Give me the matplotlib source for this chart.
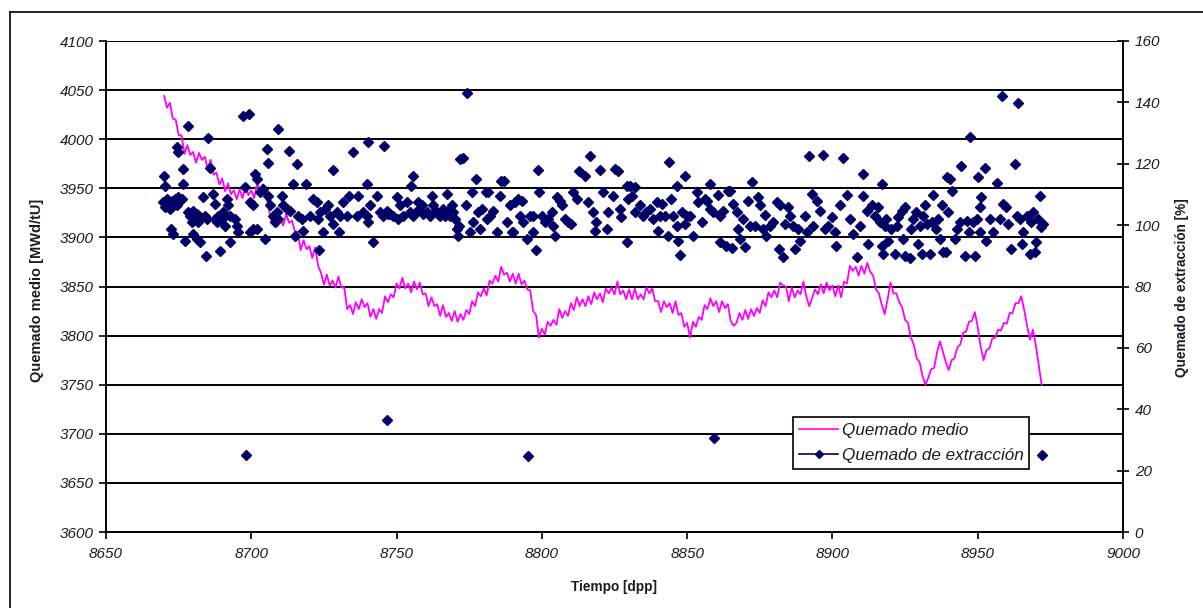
import numpy as np
import matplotlib
matplotlib.use('Agg')
import matplotlib.pyplot as plt
from matplotlib.lines import Line2D

plt.rcParams['font.family'] = ['Liberation Sans', 'DejaVu Sans']

# Quemado medio del núcleo, un valor por día (dpp), desde DIA_INICIO
DIA_INICIO = 8670
QUEMADO_MEDIO = [
    4044, 4032, 4037, 4021, 4020, 4004, 4004, 3985, 3994, 3984,
    3987, 3976, 3986, 3979, 3982, 3970, 3979, 3964, 3966, 3954,
    3960, 3947, 3955, 3944, 3948, 3939, 3949, 3940, 3951, 3943,
    3948, 3940, 3955, 3949, 3954, 3943, 3929, 3916, 3919, 3911,
    3920, 3912, 3924, 3915, 3917, 3906, 3906, 3887, 3897, 3888,
    3891, 3879, 3890, 3871, 3864, 3852, 3862, 3851, 3856, 3849,
    3860, 3849, 3849, 3827, 3831, 3822, 3834, 3827, 3837, 3829,
    3833, 3819, 3827, 3817, 3827, 3823, 3840, 3834, 3842, 3839,
    3853, 3848, 3859, 3848, 3853, 3844, 3855, 3847, 3854, 3842,
    3843, 3830, 3839, 3830, 3832, 3820, 3831, 3819, 3823, 3815,
    3825, 3814, 3822, 3816, 3826, 3822, 3835, 3830, 3844, 3840,
    3848, 3841, 3856, 3853, 3861, 3855, 3870, 3862, 3864, 3855,
    3863, 3853, 3863, 3852, 3856, 3847, 3846, 3825, 3821, 3798,
    3807, 3801, 3814, 3810, 3816, 3811, 3827, 3818, 3825, 3820,
    3833, 3826, 3839, 3830, 3837, 3830, 3840, 3832, 3844, 3837,
    3843, 3834, 3848, 3843, 3849, 3842, 3855, 3842, 3846, 3837,
    3847, 3837, 3848, 3837, 3842, 3837, 3849, 3843, 3848, 3835,
    3835, 3824, 3835, 3829, 3833, 3823, 3835, 3821, 3823, 3809,
    3813, 3798, 3814, 3809, 3819, 3816, 3831, 3827, 3838, 3830,
    3835, 3824, 3835, 3828, 3832, 3815, 3810, 3813, 3823, 3816,
    3826, 3817, 3827, 3820, 3828, 3823, 3836, 3830, 3844, 3839,
    3846, 3839, 3854, 3851, 3850, 3835, 3849, 3839, 3846, 3842,
    3855, 3840, 3830, 3838, 3847, 3842, 3852, 3843, 3854, 3846,
    3851, 3840, 3851, 3839, 3855, 3853, 3871, 3866, 3870, 3861,
    3871, 3863, 3874, 3865, 3861, 3847, 3843, 3831, 3822, 3837,
    3854, 3843, 3843, 3834, 3829, 3816, 3813, 3798, 3791, 3777,
    3773, 3759, 3750, 3757, 3766, 3767, 3783, 3794, 3784, 3773,
    3765, 3775, 3777, 3788, 3791, 3803, 3804, 3814, 3815, 3824,
    3809, 3789, 3775, 3785, 3787, 3797, 3798, 3806, 3805, 3813,
    3812, 3823, 3823, 3833, 3833, 3840, 3826, 3810, 3796, 3806,
    3790, 3770, 3750,
]

# Quemado de extracción [%] de cada elemento descargado
EXTR_DIAS = [
    8670.0, 8670.3, 8669.7, 8670.9, 8671.4, 8672.6, 8673.7, 8674.9, 8676.0, 8670.3,
    8672.0, 8674.3, 8672.2, 8673.2, 8674.5, 8674.9, 8676.6, 8676.4, 8678.1, 8677.2,
    8678.3, 8678.9, 8680.0, 8680.6, 8681.2, 8679.5, 8682.3, 8681.8, 8680.0, 8681.2,
    8682.3, 8683.5, 8684.1, 8684.6, 8684.4, 8685.2, 8685.8, 8686.9, 8687.5, 8688.1,
    8687.5, 8688.7, 8689.8, 8689.2, 8690.4, 8690.9, 8691.5, 8692.1, 8692.7, 8692.7,
    8694.4, 8695.0, 8695.5, 8697.0, 8699.2, 8697.8, 8699.5, 8699.5, 8700.7, 8701.8,
    8700.7, 8701.3, 8701.8, 8703.0, 8704.1, 8704.7, 8705.3, 8705.9, 8705.9, 8706.4,
    8707.6, 8708.7, 8708.2, 8709.3, 8709.3, 8710.4, 8711.0, 8712.2, 8713.3, 8713.1,
    8714.2, 8715.6, 8715.0, 8716.2, 8717.3, 8717.9, 8719.0, 8720.2, 8721.3, 8722.5,
    8723.1, 8723.6, 8723.4, 8724.8, 8725.4, 8726.5, 8727.1, 8728.0, 8728.2, 8729.4,
    8730.5, 8730.3, 8731.7, 8732.8, 8733.5, 8734.9, 8736.3, 8736.8, 8738.6, 8739.7,
    8739.7, 8740.3, 8740.0, 8740.8, 8742.0, 8743.1, 8744.3, 8745.4, 8745.7, 8747.2,
    8748.9, 8750.0, 8750.6, 8746.6, 8747.7,
    8751.2, 8752.3, 8753.5, 8754.6, 8755.8, 8754.8, 8755.8, 8757.5, 8758.6, 8760.3,
    8762.1, 8762.6, 8763.8, 8764.9, 8766.1, 8767.2, 8768.4, 8769.0, 8770.1, 8770.7,
    8771.2, 8771.6, 8771.8, 8772.7, 8773.9, 8774.3, 8775.3, 8775.8, 8776.4, 8777.3,
    8778.1, 8778.7, 8779.3, 8780.8, 8781.6, 8781.0, 8782.1, 8783.3, 8784.4, 8785.6,
    8786.1, 8786.9, 8787.9, 8789.0, 8789.6, 8790.2, 8790.7, 8791.9, 8793.0, 8792.5,
    8793.6, 8794.8, 8795.9, 8796.8, 8797.1, 8798.0, 8798.8, 8799.1, 8799.9, 8801.1,
    8802.2, 8803.4, 8803.9, 8804.5, 8805.1, 8806.2, 8806.8, 8808.0, 8809.1, 8810.2,
    8810.6, 8812.0, 8812.9, 8814.8, 8816.0, 8816.5, 8817.7, 8818.3, 8818.8, 8820.0,
    8821.1, 8822.3, 8822.8, 8824.6, 8825.1, 8826.3, 8826.9, 8827.4, 8829.2, 8829.4,
    8829.7, 8756.9, 8759.2, 8761.5, 8763.2, 8764.4, 8765.5, 8766.6, 8767.8, 8769.5,
    8830.3, 8832.0, 8830.9, 8832.0, 8833.8, 8834.9, 8836.0, 8837.2, 8838.3, 8839.5,
    8840.6, 8840.1, 8841.2, 8842.4, 8843.5, 8843.9, 8844.6, 8845.2, 8846.4, 8847.0,
    8846.6, 8847.5, 8848.1, 8849.2, 8849.8, 8849.2, 8851.0, 8852.1, 8853.3, 8853.8,
    8855.0, 8856.1, 8856.9, 8857.8, 8857.8, 8859.0, 8860.7, 8861.3, 8861.3, 8862.4,
    8863.3, 8864.2, 8864.7, 8865.9, 8865.3, 8867.0, 8867.6, 8868.2, 8869.3, 8869.9,
    8871.0, 8872.2, 8871.6, 8873.3, 8874.5, 8875.0, 8876.2, 8876.8, 8877.3, 8878.5,
    8879.6, 8880.8, 8881.7, 8881.9, 8883.1, 8883.6, 8884.8, 8885.4, 8886.5, 8887.1,
    8888.2, 8888.8, 8890.5, 8891.1, 8892.0, 8892.8, 8893.4, 8894.8, 8895.7, 8896.6,
    8897.4, 8898.6, 8899.7, 8900.9, 8901.4, 8902.6, 8903.5, 8904.9, 8906.0, 8907.2,
    8908.5, 8909.5, 8910.4, 8910.6, 8911.8, 8912.3,
    8913.5, 8914.6, 8915.8, 8916.3, 8916.9, 8916.9, 8917.5, 8918.1, 8918.6, 8919.2,
    8920.3, 8921.5, 8922.1, 8922.6, 8923.8, 8924.9, 8924.4, 8924.9, 8926.7, 8927.2,
    8927.8, 8928.9, 8929.5, 8930.1, 8930.7, 8931.2, 8932.4, 8932.0, 8933.5, 8934.1,
    8934.7, 8935.8, 8936.4, 8937.0, 8937.6, 8938.1, 8939.0, 8939.5, 8939.8, 8940.4,
    8941.3, 8942.1, 8942.7, 8943.9, 8944.4, 8945.6, 8946.2, 8947.3, 8947.1, 8948.5,
    8949.0, 8949.6, 8950.2, 8950.7, 8951.3, 8950.7, 8952.5, 8953.0, 8954.2, 8955.3,
    8956.5, 8957.6, 8958.2, 8958.8, 8959.9, 8960.5, 8961.6, 8962.8, 8963.4, 8963.9,
    8964.5, 8965.1, 8965.7, 8966.8, 8968.0, 8968.5, 8969.1, 8969.7, 8970.2, 8970.8,
    8971.4, 8971.9, 8972.3,
    8698.2, 8746.7, 8795.2, 8859.2, 8972.1,
]
EXTR_PCT = [
    116.1, 112.9, 107.4, 108.5, 106.4, 108.0, 108.5, 109.1, 108.5, 105.8,
    105.3, 106.4, 98.8, 97.1, 125.4, 123.7, 118.3, 113.4, 132.2, 94.9,
    104.2, 103.1, 104.7, 102.0, 103.6, 100.9, 102.6, 100.9, 97.1, 95.5,
    94.4, 109.1, 103.1, 102.0, 89.8, 128.3, 118.5, 110.1, 102.0, 100.9,
    106.9, 103.1, 102.0, 91.7, 104.2, 99.8, 108.5, 106.4, 103.1, 94.4,
    102.0, 99.8, 97.6, 135.7, 136.2, 112.3, 107.4, 97.6, 98.8, 98.8,
    106.4, 116.7, 115.0, 110.7, 111.8, 95.5, 124.8, 120.2, 109.6, 106.4,
    103.1, 104.2, 100.9, 102.0, 131.3, 109.6, 106.4, 105.3, 104.7, 124.3,
    113.4, 119.9, 96.6, 103.1, 102.0, 98.2, 113.4, 103.1, 108.5, 107.4,
    102.0, 104.2, 92.0, 97.6, 105.3, 106.4, 103.1, 100.4, 118.1, 104.2,
    103.1, 97.9, 107.4, 103.1, 109.4, 123.7, 103.1, 109.6, 104.2, 103.1,
    113.4, 100.9, 127.0, 106.4, 94.4, 109.6, 104.2, 103.1, 125.9, 103.6,
    103.1, 109.1, 102.0, 104.7, 103.6,
    106.4, 103.1, 107.4, 104.2, 103.1, 112.9, 115.9, 107.4, 106.4, 104.2,
    109.6, 106.4, 104.2, 103.1, 105.3, 110.1, 103.1, 106.4, 102.0, 98.8,
    96.6, 99.8, 121.6, 121.8, 106.4, 143.1, 97.6, 110.7, 100.9, 115.0,
    104.2, 98.8, 105.3, 110.7, 110.7, 102.0, 103.1, 104.7, 97.6, 109.6,
    114.5, 114.5, 100.9, 106.4, 97.6, 97.6, 107.4, 108.5, 108.0, 103.1,
    100.9, 95.5, 103.1, 97.6, 103.1, 91.9, 118.1, 110.7, 103.1, 100.9,
    102.0, 104.2, 99.8, 96.6, 109.1, 108.0, 106.4, 102.0, 100.9, 100.4,
    110.7, 108.5, 117.8, 116.1, 107.4, 122.4, 104.2, 98.2, 100.9, 118.1,
    110.7, 98.8, 104.2, 109.6, 118.3, 117.8, 105.3, 102.6, 112.7, 94.6,
    108.5, 104.7, 103.6, 103.1, 104.7, 103.6, 104.7, 103.1, 104.7, 104.2,
    112.9, 112.3, 109.6, 104.2, 106.4, 103.1, 104.2, 105.3, 102.0, 107.4,
    103.1, 98.2, 106.9, 103.1, 96.6, 120.7, 108.5, 103.1, 99.8, 94.9,
    112.9, 90.3, 104.2, 100.4, 103.1, 116.1, 103.1, 96.6, 110.7, 107.4,
    100.9, 108.5, 108.0, 113.3, 105.3, 104.2, 109.8, 94.4, 103.1, 104.7,
    93.3, 111.2, 111.2, 106.9, 92.6, 104.2, 98.8, 95.5, 102.0, 92.8,
    108.0, 114.2, 99.8, 99.8, 109.1, 106.4, 98.8, 103.3, 96.6, 99.8,
    100.9, 107.4, 92.2, 106.4, 89.5, 100.4, 105.8, 103.1, 99.8, 92.2,
    98.8, 94.9, 103.1, 97.6, 122.4, 110.1, 99.8, 108.0, 104.7, 122.9,
    98.8, 99.8, 102.6, 97.6, 93.3, 106.4, 121.8, 109.8, 102.0, 97.1,
    89.5, 99.8, 116.7, 109.6, 104.7, 93.9,
    106.4, 103.1, 105.8, 100.9, 113.4, 93.3, 90.6, 99.8, 102.0, 94.9,
    98.8, 90.6, 99.8, 102.6, 104.7, 105.8, 95.5, 90.1, 89.2, 98.8,
    102.0, 104.2, 93.9, 99.8, 90.6, 103.1, 100.4, 106.4, 90.6, 100.9,
    109.8, 98.8, 102.0, 95.5, 106.4, 91.1, 91.1, 115.6, 104.2, 115.0,
    111.0, 95.5, 98.8, 100.9, 119.4, 90.1, 101.5, 128.6, 97.6, 100.9,
    90.1, 102.0, 115.6, 97.6, 109.1, 105.8, 118.5, 94.9, 102.0, 97.6,
    113.6, 102.0, 142.0, 106.9, 105.8, 100.4, 92.2, 119.9, 103.1, 139.8,
    102.0, 93.9, 97.6, 103.1, 90.6, 100.9, 104.2, 91.1, 94.4, 102.0,
    109.6, 99.3, 100.4,
    25.1, 36.5, 24.8, 30.6, 25.1,
]

X_TICKS = [8650, 8700, 8750, 8800, 8850, 8900, 8950, 9000]
Y_TICKS = [3600, 3650, 3700, 3750, 3800, 3850, 3900, 3950, 4000, 4050, 4100]
Y2_TICKS = [0, 20, 40, 60, 80, 100, 120, 140, 160]

MAGENTA = '#FF00FF'
AZUL = '#000066'
TEXTO = '#1c1c24'

dias = np.arange(DIA_INICIO, DIA_INICIO + len(QUEMADO_MEDIO))

fig = plt.figure(figsize=(12.03, 6.08), dpi=100)

# marco exterior del gráfico (solo se ven los lados izquierdo y superior)
fig.add_artist(Line2D([10 / 1203, 10 / 1203], [0, 1 - 12 / 608],
                      transform=fig.transFigure, color='black', lw=1.2))
fig.add_artist(Line2D([10 / 1203, 1], [1 - 12 / 608, 1 - 12 / 608],
                      transform=fig.transFigure, color='black', lw=1.2))

ax = fig.add_axes([106 / 1203, 76 / 608, 1017 / 1203, 491 / 608])
ax.plot(dias, QUEMADO_MEDIO, color=MAGENTA, lw=1.3, zorder=3)
ax.set_xlim(8650, 9000)
ax.set_ylim(3600, 4100)
ax.set_xticks(X_TICKS)
ax.set_yticks(Y_TICKS)
ax.yaxis.grid(True, color='black', lw=1.4)
ax.set_axisbelow(True)
for s in ['top', 'right']:
    ax.spines[s].set_visible(False)
ax.spines['left'].set_linewidth(1.4)
ax.spines['bottom'].set_linewidth(1.4)
ax.tick_params(axis='both', direction='out', length=5, width=1.2,
               labelsize=11, labelcolor=TEXTO)
ax.tick_params(axis='y', pad=4)
ax.tick_params(axis='x', pad=6)
for lab in ax.get_xticklabels() + ax.get_yticklabels():
    lab.set_fontstyle('italic')

ax2 = ax.twinx()
ax2.plot(EXTR_DIAS, EXTR_PCT, ls='none', marker='D', ms=5.5,
         color=AZUL, mec=AZUL, zorder=4)
ax2.set_ylim(0, 160)
ax2.set_yticks(Y2_TICKS)
for s in ['top', 'left', 'bottom']:
    ax2.spines[s].set_visible(False)
ax2.spines['right'].set_linewidth(1.4)
ax2.tick_params(axis='y', direction='inout', length=9, width=1.2,
                labelsize=11, labelcolor=TEXTO, pad=4)
for lab in ax2.get_yticklabels():
    lab.set_fontstyle('italic')

fig.text(37 / 1203, 1 - 290 / 608, 'Quemado medio [MWd/tU]', rotation=90,
         ha='center', va='center', fontsize=10.5, fontweight='bold', color=TEXTO)
fig.text(1182 / 1203, 1 - 288 / 608, 'Quemado de extracción [%]', rotation=90,
         ha='center', va='center', fontsize=9.8, fontweight='bold', color=TEXTO)
fig.text(614 / 1203, 1 - 587 / 608, 'Tiempo [dpp]', ha='center', va='center',
         fontsize=9.8, fontweight='bold', color=TEXTO)

handles = [
    Line2D([], [], color=MAGENTA, lw=1.2),
    Line2D([], [], color=AZUL, lw=1.2, marker='D', ms=4),
]
leg = ax2.legend(handles, ['Quemado medio', 'Quemado de extracción'],
                 loc='lower left', bbox_to_anchor=(0.6755, 0.128),
                 borderaxespad=0, frameon=True, fancybox=False,
                 framealpha=1, edgecolor='black', borderpad=0.35,
                 handlelength=2.3, handletextpad=0.2, labelspacing=0.6,
                 prop={'size': 12.3, 'style': 'italic'})
leg.get_frame().set_linewidth(1.2)
for t in leg.get_texts():
    t.set_color(TEXTO)

fig.savefig('out.png', dpi=100)
